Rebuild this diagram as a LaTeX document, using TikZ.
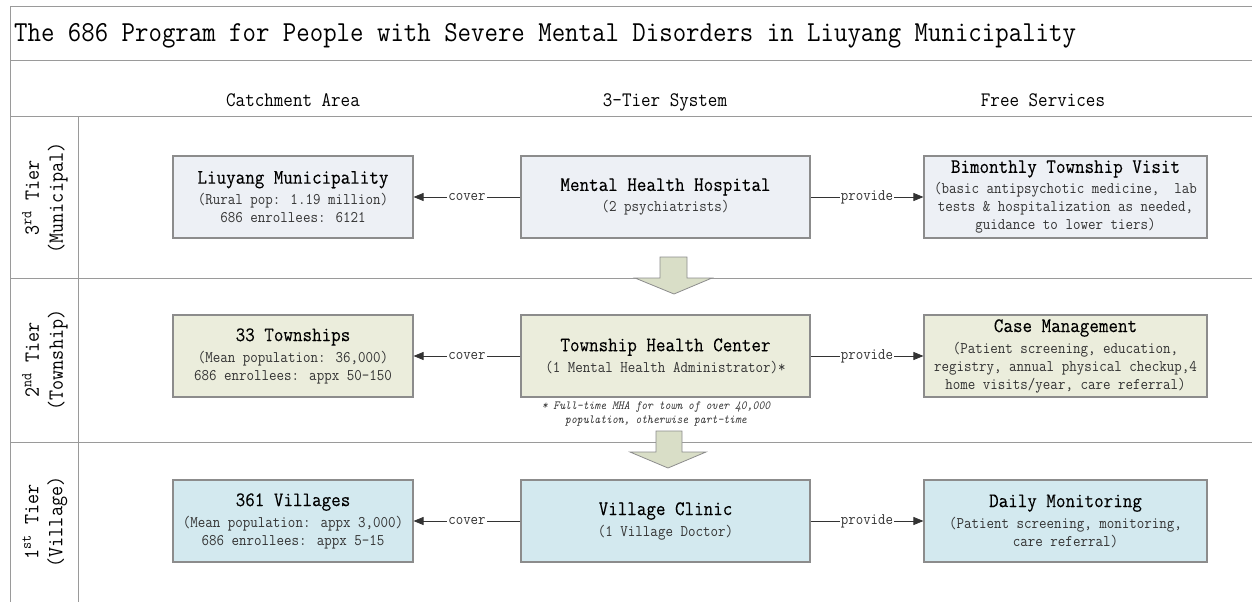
\documentclass[tikz,border=0pt]{standalone}
\usepackage{fontspec}
\setmainfont[FakeStretch=0.9]{Latin Modern Mono}
\newfontfamily\ttlfam[FakeStretch=0.9,FakeBold=0.2]{Latin Modern Mono}
\usetikzlibrary{arrows.meta}
\definecolor{gridc}{HTML}{9A9A9A}
\definecolor{boxc}{HTML}{8C8C8C}
\definecolor{subc}{HTML}{333333}
\definecolor{fillA}{HTML}{EDF0F5}
\definecolor{fillB}{HTML}{EBEDDC}
\definecolor{fillC}{HTML}{D3E9EF}
\definecolor{arrf}{HTML}{D9DEC7}
\newcommand\ttl{\ttlfam\fontsize{20.6}{22}\selectfont}
\newcommand\subf{\fontsize{16.2}{18}\selectfont}
\tikzset{
  grid/.style={draw=gridc, line width=1pt},
  tbox/.style={draw=boxc, line width=1.1pt, minimum height=82pt, inner sep=0pt,
               align=center, font=\subf, text=subc},
  boxL/.style={tbox, minimum width=240pt},
  boxM/.style={tbox, minimum width=289pt},
  boxR/.style={tbox, minimum width=283pt},
  conn/.style={draw=black!80, line width=0.8pt, -{Triangle[length=10pt,width=8pt]}},
  lbl/.style={fill=white, inner sep=1pt, font=\fontsize{16.1}{18}\selectfont, text=subc},
  hdr/.style={anchor=base, font=\fontsize{20.6}{22}\selectfont, inner sep=0pt},
  tier/.style={rotate=90, align=center, font=\fontsize{21.7}{24}\selectfont, inner sep=0pt},
  downarr/.style={fill=arrf, draw=boxc, line width=0.8pt},
}
\begin{document}
\begin{tikzpicture}[x=1pt,y=-1pt]
\useasboundingbox (0,0) rectangle (1252,602);
% grid
\draw[grid] (1252,7) -- (10,7) -- (10,602);
\draw[grid] (10,61) -- (1252,61);
\draw[grid] (10,116) -- (1252,116);
\draw[grid] (78,116) -- (78,602);
\draw[grid] (10,278) -- (1252,278);
\draw[grid] (10,442) -- (1252,442);
% title and headers
\node[anchor=base west, inner sep=0pt, font=\fontsize{29}{30}\selectfont] (title) at (14,42)
  {The 686 Program for People with Severe Mental Disorders in Liuyang Municipality};
\node[hdr] (h1) at (293,106) {Catchment Area};
\node[hdr] (h2) at (665,106) {3-Tier System};
\node[hdr] (h3) at (1043,106) {Free Services};
% tier labels
\node[tier] (t3) at (45,198) {3\textsuperscript{rd} Tier\\(Municipal)};
\node[tier] (t2) at (45,360) {2\textsuperscript{nd} Tier\\(Township)};
\node[tier] (t1) at (45,522) {1\textsuperscript{st} Tier\\(Village)};
% down arrows
\draw[downarr] (660,257) -- (687,257) -- (687,278) -- (712,278) -- (674,294) -- (635,278) -- (660,278) -- cycle;
\draw[downarr] (656,431) -- (682,431) -- (682,452) -- (706,452) -- (668,468) -- (630,452) -- (656,452) -- cycle;
% row 1
\node[boxL, fill=fillA] (liu) at (293,197)
  {{\color{black}\ttl Liuyang Municipality}\\[3pt](Rural pop: 1.19 million)\\686 enrollees: 6121};
\node[boxM, fill=fillA] (mhh) at (665.5,197)
  {{\color{black}\ttl Mental Health Hospital}\\[3pt](2 psychiatrists)};
\node[boxR, fill=fillA] (bim) at (1065.5,197)
  {{\color{black}\ttl Bimonthly Township Visit}\\[3pt](basic antipsychotic medicine,~ lab\\tests \& hospitalization as needed,\\guidance to lower tiers)};
% row 2
\node[boxL, fill=fillB] (twp) at (293,356)
  {{\color{black}\ttl 33 Townships}\\[3pt](Mean population: 36,000)\\686 enrollees: appx 50-150};
\node[boxM, fill=fillB] (thc) at (665.5,356)
  {{\color{black}\ttl Township Health Center}\\[3pt](1 Mental Health Administrator)*};
\node[boxR, fill=fillB] (cm) at (1065.5,356)
  {{\color{black}\ttl Case Management}\\[3pt](Patient screening, education,\\registry, annual physical checkup,4\\home visits/year, care referral)};
\node[align=center, inner sep=0pt, font=\fontsize{12.4}{14}\selectfont\itshape, text=subc] (fn) at (656,414)
  {* Full-time MHA for town of over 40,000\\population, otherwise part-time};
% row 3
\node[boxL, fill=fillC] (vil) at (293,521)
  {{\color{black}\ttl 361 Villages}\\[3pt](Mean population: appx 3,000)\\686 enrollees: appx 5-15};
\node[boxM, fill=fillC] (vc) at (665.5,521)
  {{\color{black}\ttl Village Clinic}\\[3pt](1 Village Doctor)};
\node[boxR, fill=fillC] (dm) at (1065.5,521)
  {{\color{black}\ttl Daily Monitoring}\\[3pt](Patient screening, monitoring,\\care referral)};
% connectors
\draw[conn] (mhh) -- node[lbl]{cover} (liu);
\draw[conn] (mhh) -- node[lbl]{provide} (bim);
\draw[conn] (thc) -- node[lbl]{cover} (twp);
\draw[conn] (thc) -- node[lbl]{provide} (cm);
\draw[conn] (vc) -- node[lbl]{cover} (vil);
\draw[conn] (vc) -- node[lbl]{provide} (dm);
\end{tikzpicture}
\end{document}
